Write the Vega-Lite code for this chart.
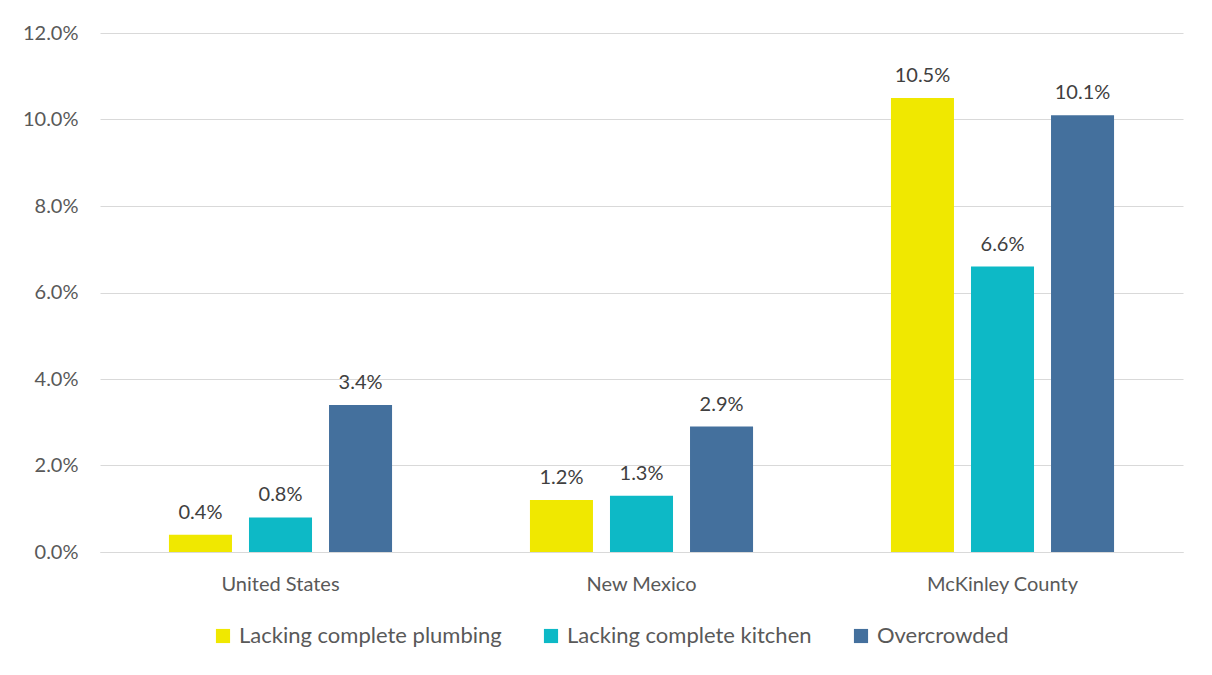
{
  "$schema": "https://vega.github.io/schema/vega-lite/v6.json",
  "width": 1083,
  "height": 519,
  "autosize": {"type": "none"},
  "padding": {"left": 100, "top": 33, "right": 29, "bottom": 123},
  "background": "white",
  "config": {
    "font": "Lato",
    "view": {"stroke": null},
    "axis": {"labelFont": "Lato", "labelColor": "#595959", "labelFontSize": 20}
  },
  "data": {
    "values": [
      {"region": "United States", "measure": "Lacking complete plumbing", "value": 0.004},
      {"region": "United States", "measure": "Lacking complete kitchen", "value": 0.008},
      {"region": "United States", "measure": "Overcrowded", "value": 0.034},
      {"region": "New Mexico", "measure": "Lacking complete plumbing", "value": 0.012},
      {"region": "New Mexico", "measure": "Lacking complete kitchen", "value": 0.013},
      {"region": "New Mexico", "measure": "Overcrowded", "value": 0.029},
      {"region": "McKinley County", "measure": "Lacking complete plumbing", "value": 0.105},
      {"region": "McKinley County", "measure": "Lacking complete kitchen", "value": 0.066},
      {"region": "McKinley County", "measure": "Overcrowded", "value": 0.101}
    ]
  },
  "encoding": {
    "x": {
      "field": "region", "type": "nominal",
      "sort": ["United States", "New Mexico", "McKinley County"],
      "scale": {"paddingInner": 0.382, "paddingOuter": 0.191},
      "axis": {"title": null, "labelAngle": 0, "ticks": false, "domain": true, "domainColor": "#d9d9d9", "labelPadding": 22}
    },
    "xOffset": {
      "field": "measure", "type": "nominal",
      "sort": ["Lacking complete plumbing", "Lacking complete kitchen", "Overcrowded"],
      "scale": {"paddingInner": 0.2125, "paddingOuter": 0}
    },
    "y": {
      "field": "value", "type": "quantitative",
      "scale": {"domain": [0, 0.12], "nice": false},
      "axis": {"title": null, "format": ".1%", "values": [0, 0.02, 0.04, 0.06, 0.08, 0.1, 0.12], "labelOverlap": false, "gridColor": "#d9d9d9", "domain": false, "ticks": false, "labelPadding": 22}
    }
  },
  "layer": [
    {
      "mark": {"type": "bar"},
      "encoding": {
        "color": {
          "field": "measure", "type": "nominal",
          "sort": ["Lacking complete plumbing", "Lacking complete kitchen", "Overcrowded"],
          "scale": {"domain": ["Lacking complete plumbing", "Lacking complete kitchen", "Overcrowded"], "range": ["#F0E800", "#0DB9C6", "#44709D"]},
          "legend": {
            "title": null, "orient": "none", "legendX": 112, "legendY": 592, "direction": "horizontal",
            "symbolType": "square", "symbolSize": 200, "symbolStrokeWidth": 0,
            "labelFont": "Lato", "labelFontSize": 22, "labelColor": "#595959", "labelLimit": 0,
            "columnPadding": 38, "labelOffset": 5
          }
        }
      }
    },
    {
      "mark": {"type": "text", "baseline": "bottom", "dy": -12, "fontSize": 20, "color": "#404040", "font": "Lato"},
      "encoding": {
        "text": {"field": "value", "type": "quantitative", "format": ".1%"}
      }
    }
  ]
}
